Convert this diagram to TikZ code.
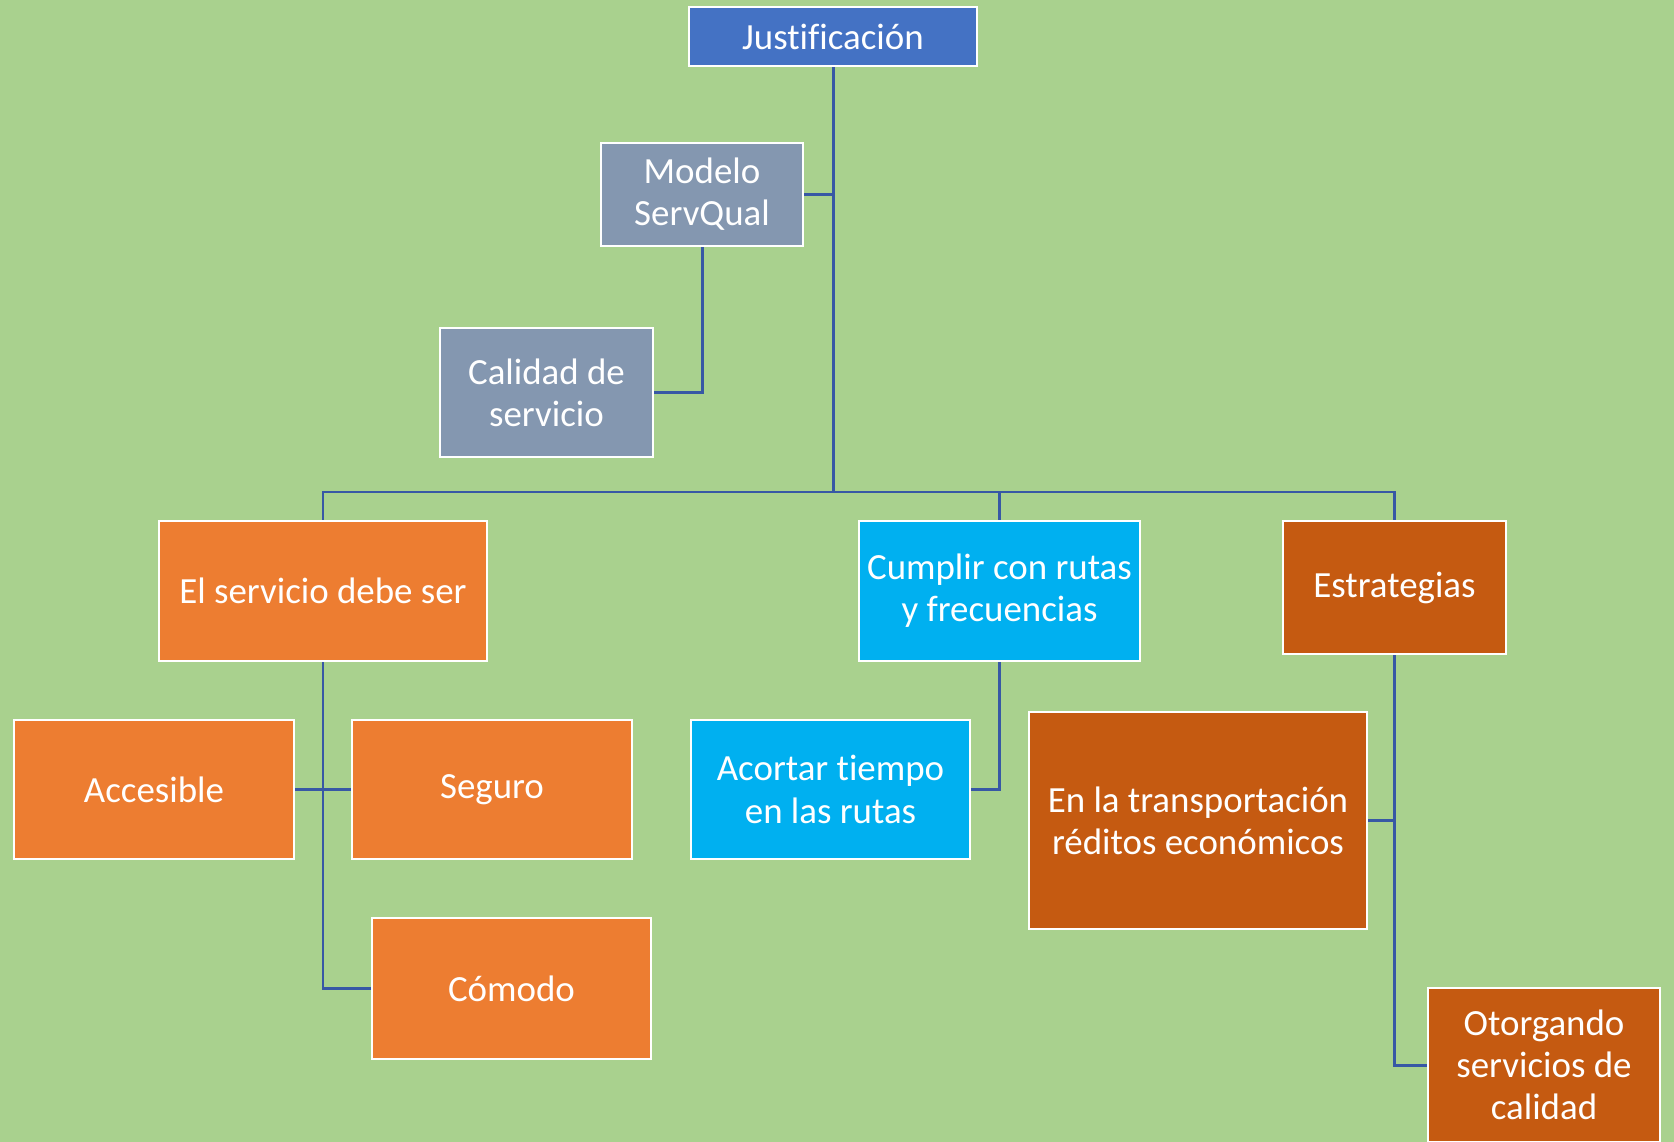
\documentclass[tikz,border=0pt]{standalone}
\usepackage{fontspec}
\setmainfont{Carlito}[Ligatures=NoCommon]
\usepackage{tikz}
\usetikzlibrary{positioning}
\definecolor{fondo}{HTML}{A9D18E}
\definecolor{azul}{HTML}{4472C4}
\definecolor{gris}{HTML}{8497B0}
\definecolor{naranja}{HTML}{ED7D31}
\definecolor{celeste}{HTML}{00B0F0}
\definecolor{marron}{HTML}{C55A11}
\definecolor{linea}{RGB}{55,88,165}
\begin{document}
\begin{tikzpicture}[x=0.02cm, y=-0.02cm,
    every node/.style={rectangle, draw=white, line width=1.6pt, text=white, align=center, inner sep=0pt, font=\fontsize{21}{24}\selectfont},
    conector/.style={draw=linea, line width=1.7pt}]
    
    \fill[fondo] (0,0) rectangle (1674,1142);
    \useasboundingbox (0,0) rectangle (1674,1142);
    \clip (0,0) rectangle (1674,1142);
    
    \node[fill=azul, minimum width=5.76cm, minimum height=1.18cm] (just) at (833,36.5) {Justificación};
    \node[fill=gris, minimum width=4.04cm, minimum height=2.06cm] (modelo) at (702,194.5) {Modelo\\ServQual};
    \node[fill=gris, minimum width=4.26cm, minimum height=2.58cm] (calidad) at (546.5,392.5) {Calidad de\\servicio};
    
    \coordinate (bus) at (833,492);
    
    \node[fill=naranja, minimum width=6.56cm, minimum height=2.8cm] (servicio) at (323,591) {El servicio debe ser};
    \node[fill=celeste, minimum width=5.62cm, minimum height=2.8cm] (cumplir) at (999.5,591) {Cumplir con rutas\\y frecuencias};
    \node[fill=marron, minimum width=4.46cm, minimum height=2.66cm] (estrat) at (1394.5,587.5) {Estrategias};
    
    \node[fill=naranja, minimum width=5.6cm, minimum height=2.78cm] (accesible) at (154,789.5) {Accesible};
    \node[fill=naranja, minimum width=5.6cm, minimum height=2.78cm] (seguro) at (492,789.5) {Seguro};
    \node[fill=naranja, minimum width=5.58cm, minimum height=2.82cm] (comodo) at (511.5,988.5) {Cómodo};
    
    \node[fill=celeste, minimum width=5.58cm, minimum height=2.78cm] (acortar) at (830.5,789.5) {Acortar tiempo\\en las rutas};
    
    \node[fill=marron, minimum width=6.76cm, minimum height=4.34cm] (transp) at (1198,820.5) {En la transportación\\réditos económicos};
    \node[fill=marron, minimum width=4.64cm, minimum height=3.08cm] (otorg) at (1544,1065) {Otorgando\\servicios de\\calidad};
    
    \draw[conector] (just.south) -- (bus);
    \draw[conector] (servicio.north) |- (bus) -| (estrat.north);
    \draw[conector] (cumplir.north) -- (cumplir.north |- bus);
    \draw[conector] (modelo.east) -- (modelo.east -| just.south);
    \draw[conector] (modelo.south) |- (calidad.east);
    
    \draw[conector] (servicio.south) |- (comodo.west);
    \draw[conector] (accesible.east) -- (seguro.west);
    \draw[conector] (cumplir.south) |- (acortar.east);
    \draw[conector] (estrat.south) |- (otorg.west);
    \draw[conector] (transp.east) -- (transp.east -| estrat.south);
\end{tikzpicture}
\end{document}
